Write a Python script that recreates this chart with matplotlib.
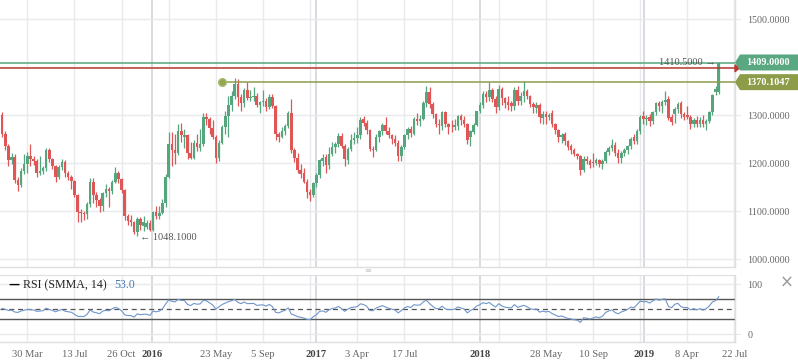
import numpy as np
import pandas as pd
import matplotlib
matplotlib.use("Agg")
import matplotlib.pyplot as plt
from matplotlib.patches import Polygon

plt.rcParams["font.family"] = ["Liberation Serif", "DejaVu Serif"]

# weekly candles, first week starts Mon 2 Feb 2015
first_week = "2015-02-02"
opens = [
    1300, 1262, 1236, 1206, 1214, 1166, 1155, 1183, 1199, 1215,
    1210, 1205, 1180, 1184, 1190, 1228, 1208, 1194, 1172, 1192,
    1203, 1180, 1172, 1164, 1135, 1099, 1096, 1095, 1115, 1162,
    1134, 1124, 1111, 1138, 1147, 1142, 1162, 1180, 1167, 1144,
    1090, 1082, 1078, 1056, 1085, 1069, 1068, 1076, 1062, 1098,
    1091, 1097, 1118, 1172, 1240, 1228, 1222, 1268, 1254, 1258,
    1222, 1212, 1243, 1232, 1240, 1296, 1292, 1274, 1255, 1212,
    1242, 1275, 1298, 1322, 1340, 1366, 1338, 1325, 1352, 1336,
    1338, 1341, 1322, 1327, 1329, 1318, 1338, 1320, 1262, 1255,
    1268, 1278, 1304, 1228, 1212, 1186, 1180, 1162, 1140, 1134,
    1158, 1175, 1205, 1214, 1196, 1220, 1234, 1240, 1257, 1236,
    1206, 1230, 1248, 1252, 1258, 1292, 1284, 1270, 1230, 1228,
    1255, 1268, 1280, 1268, 1258, 1250, 1243, 1216, 1234, 1258,
    1272, 1262, 1293, 1288, 1292, 1326, 1348, 1323, 1302, 1282,
    1278, 1306, 1281, 1276, 1275, 1278, 1298, 1290, 1282, 1255,
    1266, 1280, 1308, 1322, 1345, 1338, 1352, 1334, 1318, 1354,
    1336, 1328, 1325, 1320, 1352, 1330, 1340, 1350, 1340, 1324,
    1316, 1322, 1294, 1303, 1297, 1304, 1282, 1270, 1254, 1262,
    1246, 1236, 1228, 1220, 1215, 1187, 1210, 1204, 1203, 1201,
    1206, 1198, 1205, 1224, 1232, 1238, 1222, 1212, 1222, 1228,
    1236, 1254, 1246, 1267, 1298, 1293, 1297, 1288, 1306, 1325,
    1320, 1328, 1335, 1297, 1302, 1313, 1325, 1302, 1300, 1297,
    1282, 1291, 1282, 1290, 1281, 1289, 1307, 1349, 1349,
]
highs = [
    1306, 1268, 1240, 1222, 1220, 1172, 1190, 1220, 1224, 1240,
    1215, 1210, 1215, 1195, 1232, 1232, 1212, 1197, 1196, 1208,
    1206, 1184, 1175, 1166, 1137, 1104, 1100, 1120, 1170, 1170,
    1140, 1128, 1140, 1156, 1150, 1165, 1192, 1185, 1170, 1146,
    1094, 1092, 1080, 1088, 1088, 1090, 1082, 1082, 1100, 1112,
    1111, 1125, 1178, 1265, 1266, 1262, 1282, 1285, 1272, 1262,
    1245, 1248, 1262, 1272, 1305, 1304, 1296, 1290, 1260, 1248,
    1280, 1308, 1340, 1350, 1377, 1375, 1345, 1357, 1370, 1352,
    1358, 1346, 1330, 1352, 1336, 1345, 1345, 1322, 1265, 1275,
    1282, 1308, 1334, 1232, 1222, 1198, 1190, 1168, 1146, 1162,
    1180, 1210, 1220, 1220, 1235, 1245, 1245, 1264, 1264, 1240,
    1235, 1262, 1265, 1275, 1297, 1298, 1290, 1272, 1236, 1262,
    1270, 1285, 1297, 1275, 1262, 1258, 1248, 1238, 1262, 1275,
    1277, 1296, 1305, 1300, 1330, 1360, 1358, 1328, 1305, 1292,
    1310, 1310, 1285, 1290, 1292, 1300, 1302, 1298, 1285, 1270,
    1285, 1310, 1328, 1350, 1350, 1370, 1356, 1340, 1364, 1358,
    1338, 1340, 1330, 1358, 1360, 1348, 1372, 1354, 1342, 1328,
    1328, 1325, 1308, 1308, 1304, 1312, 1284, 1272, 1264, 1266,
    1248, 1240, 1232, 1222, 1218, 1215, 1215, 1210, 1221, 1212,
    1210, 1208, 1228, 1236, 1250, 1245, 1230, 1226, 1232, 1238,
    1255, 1262, 1272, 1300, 1309, 1300, 1302, 1310, 1328, 1330,
    1332, 1350, 1340, 1302, 1318, 1328, 1330, 1306, 1320, 1300,
    1295, 1298, 1296, 1300, 1292, 1310, 1345, 1362, 1410.5,
]
lows = [
    1255, 1228, 1195, 1198, 1160, 1143, 1150, 1178, 1180, 1195,
    1196, 1172, 1175, 1178, 1185, 1202, 1188, 1162, 1168, 1186,
    1172, 1165, 1147, 1130, 1078, 1078, 1082, 1085, 1110, 1118,
    1110, 1098, 1100, 1130, 1110, 1136, 1158, 1160, 1138, 1082,
    1072, 1070, 1052, 1048.1, 1062, 1058, 1064, 1060, 1058, 1085,
    1085, 1094, 1110, 1170, 1195, 1198, 1218, 1245, 1232, 1210,
    1208, 1208, 1225, 1225, 1236, 1280, 1262, 1250, 1200, 1205,
    1240, 1262, 1255, 1310, 1335, 1320, 1310, 1318, 1332, 1330,
    1330, 1318, 1304, 1320, 1308, 1313, 1315, 1248, 1245, 1252,
    1260, 1273, 1222, 1202, 1180, 1170, 1158, 1128, 1122, 1130,
    1150, 1170, 1195, 1180, 1188, 1215, 1222, 1235, 1232, 1195,
    1198, 1225, 1240, 1242, 1250, 1278, 1262, 1225, 1214, 1225,
    1245, 1260, 1262, 1252, 1240, 1236, 1205, 1204, 1230, 1250,
    1255, 1258, 1280, 1278, 1290, 1318, 1315, 1295, 1276, 1262,
    1270, 1275, 1262, 1265, 1270, 1270, 1280, 1275, 1240, 1236,
    1262, 1278, 1305, 1315, 1328, 1330, 1328, 1305, 1312, 1322,
    1315, 1312, 1308, 1312, 1322, 1322, 1328, 1335, 1318, 1305,
    1305, 1285, 1282, 1282, 1290, 1275, 1262, 1245, 1243, 1238,
    1228, 1220, 1215, 1208, 1175, 1182, 1198, 1190, 1193, 1196,
    1192, 1188, 1200, 1218, 1225, 1215, 1200, 1200, 1215, 1220,
    1230, 1240, 1240, 1262, 1282, 1280, 1278, 1282, 1300, 1310,
    1305, 1322, 1290, 1280, 1285, 1305, 1295, 1290, 1292, 1272,
    1276, 1275, 1276, 1275, 1269, 1285, 1300, 1342, 1345,
]
closes = [
    1262, 1236, 1206, 1213, 1166, 1155, 1183, 1199, 1215, 1210,
    1205, 1180, 1184, 1190, 1228, 1208, 1195, 1172, 1192, 1203,
    1179, 1172, 1164, 1135, 1099, 1097, 1095, 1115, 1162, 1134,
    1124, 1111, 1138, 1146, 1142, 1162, 1180, 1167, 1144, 1090,
    1080, 1078, 1056, 1085, 1072, 1077, 1076, 1062, 1098, 1091,
    1097, 1118, 1172, 1240, 1228, 1222, 1268, 1259, 1258, 1222,
    1212, 1243, 1235, 1240, 1296, 1292, 1274, 1255, 1212, 1242,
    1275, 1298, 1322, 1340, 1366, 1338, 1325, 1352, 1336, 1338,
    1340, 1322, 1327, 1329, 1318, 1338, 1320, 1262, 1255, 1268,
    1278, 1304, 1228, 1212, 1186, 1178, 1162, 1140, 1134, 1158,
    1175, 1207, 1212, 1196, 1220, 1234, 1240, 1257, 1236, 1208,
    1230, 1248, 1252, 1258, 1290, 1284, 1270, 1230, 1228, 1255,
    1268, 1280, 1268, 1258, 1250, 1243, 1216, 1234, 1258, 1272,
    1264, 1293, 1289, 1292, 1326, 1348, 1323, 1302, 1282, 1280,
    1306, 1281, 1276, 1275, 1279, 1298, 1290, 1282, 1248, 1267,
    1280, 1308, 1322, 1345, 1338, 1352, 1334, 1318, 1354, 1336,
    1325, 1322, 1320, 1352, 1330, 1340, 1350, 1340, 1324, 1318,
    1322, 1296, 1303, 1297, 1300, 1282, 1270, 1255, 1258, 1246,
    1234, 1228, 1220, 1215, 1187, 1210, 1204, 1196, 1201, 1206,
    1198, 1205, 1224, 1232, 1238, 1222, 1212, 1222, 1228, 1236,
    1250, 1246, 1267, 1296, 1293, 1295, 1288, 1306, 1325, 1320,
    1328, 1332, 1295, 1287, 1314, 1323, 1302, 1297, 1297, 1282,
    1290, 1282, 1290, 1281, 1289, 1307, 1342, 1354, 1409,
]

# RSI state carried in from before the visible window (avg gain / avg loss)
rsi_seed_gain = 28.0
rsi_seed_loss = 23.0
rsi_shown = "53.0"

last_price = 1409.0
red_level = 1397.9
resist_level = 1370.1047
resist_start = "2016-06-06"
low_mark = ("2015-11-30", 1048.1)
high_mark = ("2019-06-17", 1410.5)

date_ticks = ["2015-03-30", "2015-07-13", "2015-10-26", "2016-01-01", "2016-05-23",
              "2016-09-05", "2017-01-01", "2017-04-03", "2017-07-17", "2018-01-01",
              "2018-05-28", "2018-09-10", "2019-01-01", "2019-04-08", "2019-07-22"]
date_labels = ["30 Mar", "13 Jul", "26 Oct", "2016", "23 May", "5 Sep", "2017", "3 Apr",
               "17 Jul", "2018", "28 May", "10 Sep", "2019", "8 Apr", "22 Jul"]
extra_grid = ["2016-02-08", "2016-12-19", "2017-10-30", "2018-02-12", "2018-12-24"]
price_ticks = [1000, 1100, 1200, 1300, 1400, 1500]

GREEN = "#55a67f"
RED = "#e05556"
OLIVE = "#8c9c48"
LINE_RED = "#b93a32"
GRID = "#e8eaed"
YEAR_GRID = "#d6d9dc"
TXT = "#666666"

origin = pd.Timestamp("2015-03-30")
def wk(d):
    return (pd.Timestamp(d) - origin).days / 7

weeks = pd.date_range(first_week, periods=len(closes), freq="7D")
x = np.array([wk(d) for d in weeks])
o = np.array(opens, float); h = np.array(highs, float)
l = np.array(lows, float); c = np.array(closes, float)

# RSI with Wilder (SMMA) smoothing, 14
chg = np.diff(c, prepend=o[0])
g, s = rsi_seed_gain, rsi_seed_loss
rsi = []
for v in chg:
    g = (g * 13 + max(v, 0)) / 14
    s = (s * 13 + max(-v, 0)) / 14
    rsi.append(100 - 100 / (1 + g / s))
rsi = np.array(rsi)

W, H = 798, 363
fig = plt.figure(figsize=(W / 100, H / 100), dpi=100)

def fx(px):
    return px / W
def fy(py):
    return 1 - py / H

XMIN, XMAX = -8.686, 225.17
ax = fig.add_axes([0, fy(266.7), fx(735), 266.7 / H])
ax2 = fig.add_axes([0, fy(342), fx(735), 67 / H])

for a in (ax, ax2):
    a.set_xlim(XMIN, XMAX)
    for dt in date_ticks + extra_grid:
        yr = dt.endswith("01-01")
        a.axvline(wk(dt), color=YEAR_GRID if yr else GRID,
                  lw=1.3 if yr else 1.0, zorder=0)
    for sp in ("top", "left"):
        a.spines[sp].set_visible(False)
    for sp in ("right", "bottom"):
        a.spines[sp].set_color("#dddfe2")
        a.spines[sp].set_linewidth(1.0)
    a.yaxis.tick_right()
    a.tick_params(axis="y", length=4, color=GRID, pad=5, labelsize=7.2,
                  labelcolor=TXT)

# ── price panel ──
ax.set_ylim(984.6, 1540.2)
ax.set_yticks(price_ticks)
ax.set_yticklabels([f"{p:.4f}" if p != 1400 else "" for p in price_ticks])
ax.grid(axis="y", color=GRID, lw=1.0, zorder=0)
ax.set_xticks([])

cols = np.where(c >= o, GREEN, RED)
ax.vlines(x, l, h, colors=cols, lw=0.9, zorder=2)
ax.bar(x, np.maximum(np.abs(c - o), 0.9), 0.8, bottom=np.minimum(o, c),
       color=cols, lw=0, zorder=3)

ax.axhline(last_price, color=GREEN, lw=1.1, zorder=4)
ax.axhline(red_level, color=LINE_RED, lw=1.1, zorder=4)
xs = wk(resist_start)
ax.plot([xs, XMAX], [resist_level] * 2, color=OLIVE, lw=1.1, zorder=4)
ax.plot(xs, resist_level, "o", color="#93a653", ms=5.5, mec="#a9b96f", zorder=5)

ax.annotate("← 1048.1000", (wk(low_mark[0]), low_mark[1]), xytext=(2, -1),
            textcoords="offset points", ha="left", va="center",
            fontsize=7.4, color="#555555", zorder=6)
ax.annotate("1410.5000 →", (wk(high_mark[0]), high_mark[1]), xytext=(-2, 0),
            textcoords="offset points", ha="right", va="center",
            fontsize=7.4, color="#555555", zorder=6)

# price tags on the right
def py_of(p):
    return (1540.2 - p) / (1540.2 - 984.6) * 266.7

def tag(yc, txt, color):
    pts = [(735, yc), (740, yc - 8), (798, yc - 8), (798, yc + 8), (740, yc + 8)]
    fig.patches.append(Polygon([(fx(a), fy(b)) for a, b in pts], closed=True,
                               transform=fig.transFigure, color=color, lw=0))
    fig.text(fx(767.5), fy(yc), txt, ha="center", va="center", color="white",
             fontsize=7.3, fontweight="bold")

ry = py_of(red_level)
fig.patches.append(Polygon([(fx(735), fy(ry - 3.5)), (fx(739), fy(ry)),
                            (fx(735), fy(ry + 3.5))],
                           closed=True, transform=fig.transFigure, color=LINE_RED))
tag(py_of(last_price) - 0.5, f"{last_price:.4f}", "#59a882")
tag(py_of(resist_level) + 0.5, f"{resist_level:.4f}", OLIVE)

# ── RSI panel ──
ax2.set_ylim(-15.4, 118.6)
ax2.set_yticks([0, 100])
ax2.set_yticklabels(["0", "100"])
ax2.grid(axis="y", color=GRID, lw=1.0, zorder=0)
ax2.axhline(70, color="#555555", lw=1.0)
ax2.axhline(30, color="#555555", lw=1.0)
ax2.axhline(50, color="#555555", lw=0.9, ls=(0, (4, 3)))
ax2.plot(x, rsi, color="#7096cb", lw=0.8, zorder=3)
ax2.set_xticks([wk(dt) for dt in date_ticks])
ax2.set_xticklabels(date_labels)
ax2.tick_params(axis="x", length=0, pad=6, labelsize=7.6, labelcolor=TXT)
for lab, txt in zip(ax2.get_xticklabels(), date_labels):
    if txt.isdigit():
        lab.set_fontweight("bold")
        lab.set_color("#444444")

ax2.spines["top"].set_visible(True)
ax2.spines["top"].set_color("#dddfe2")

fig.text(fx(8), fy(285), "—", fontsize=8, color="black", fontweight="bold",
         va="center", family="DejaVu Sans")
fig.text(fx(23), fy(285), "RSI (SMMA, 14)", fontsize=8.6, color="#222222",
         va="center")
fig.text(fx(114), fy(285), rsi_shown, fontsize=8.6, color="#4a78b0", va="center")
fig.text(fx(368), fy(271), "≡", fontsize=6, color="#c8c8c8", ha="center",
         va="center", family="DejaVu Sans")
fig.text(fx(787), fy(283), "×", fontsize=12, color="#999999", ha="center",
         va="center", family="DejaVu Sans")

fig.savefig("out.png", dpi=100)
